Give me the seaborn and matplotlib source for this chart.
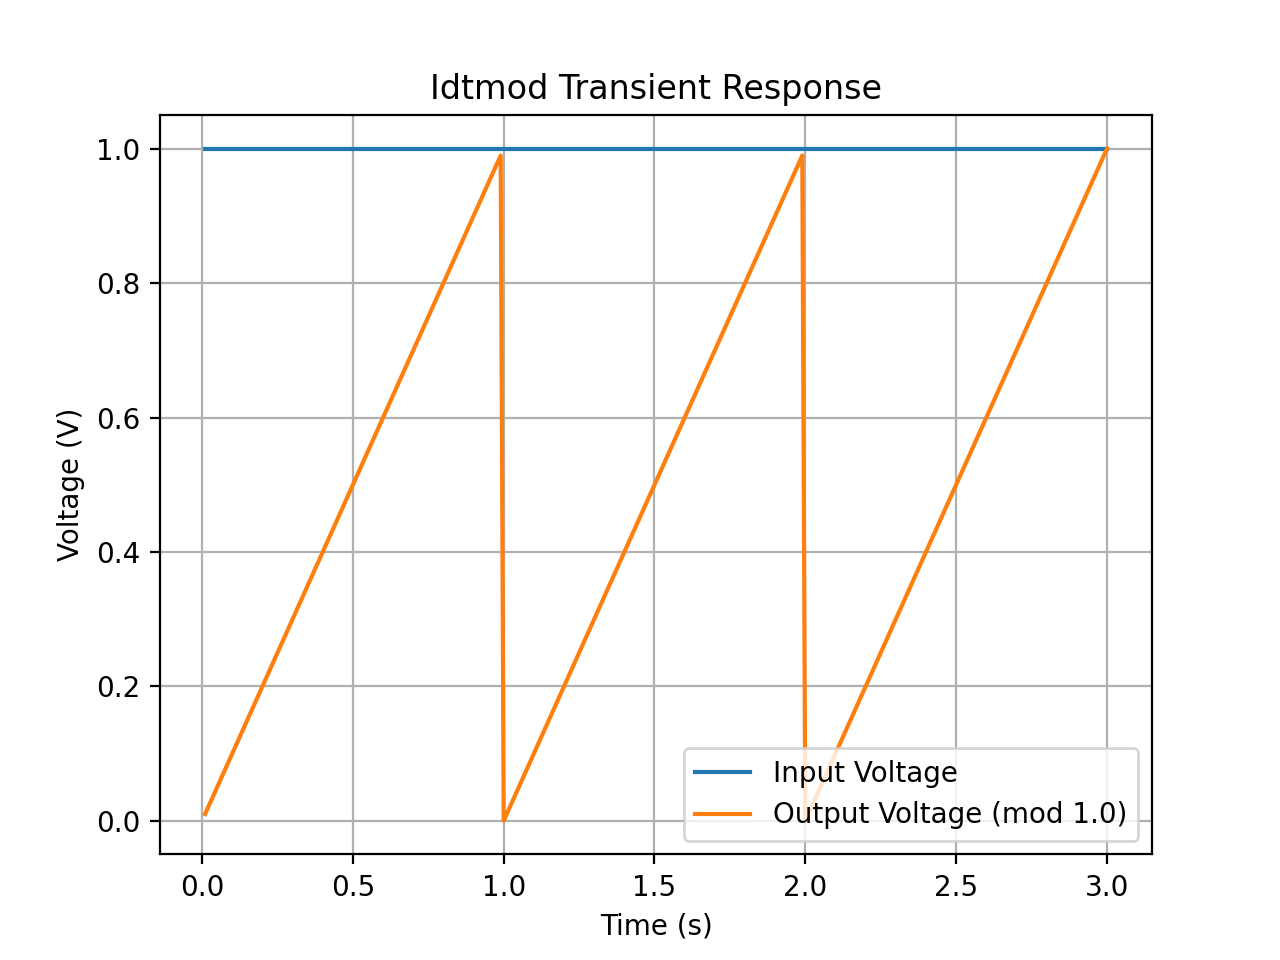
import seaborn as sns
import matplotlib.pyplot as plt
import pandas as pd

# data
time_in = [0.01, 3.0]
volt_in = [1.0, 1.0]

time_out = [0.01, 0.99, 1.00, 1.99, 2.00, 3.00]
volt_out = [0.01, 0.99, 0.00, 0.99, 0.00, 1.00]

df_in = pd.DataFrame({'t': time_in, 'v': volt_in})
df_out = pd.DataFrame({'t': time_out, 'v': volt_out})

fig, ax = plt.subplots(figsize=(6.4, 4.8), dpi=200)

sns.lineplot(data=df_in, x='t', y='v', ax=ax, color='#1f77b4',
             label='Input Voltage', sort=False, estimator=None)
sns.lineplot(data=df_out, x='t', y='v', ax=ax, color='#ff7f0e',
             label='Output Voltage (mod 1.0)', sort=False, estimator=None)

ax.set_title("Idtmod Transient Response")
ax.set_xlabel("Time (s)")
ax.set_ylabel("Voltage (V)")
ax.grid(True)
ax.legend(loc='lower right')

plt.savefig('out.png', dpi=200)
